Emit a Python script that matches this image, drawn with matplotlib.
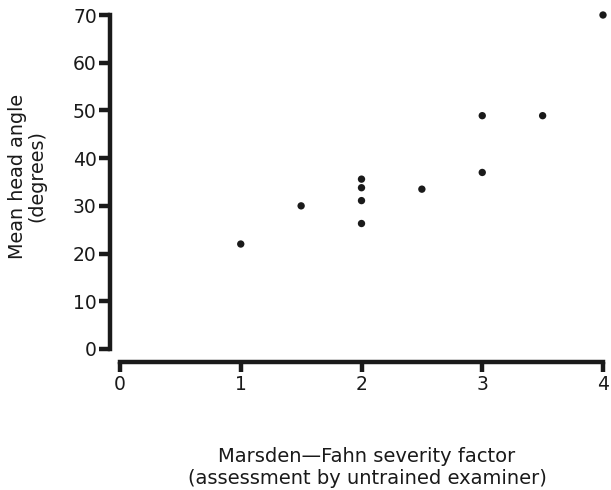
import matplotlib
matplotlib.use("Agg")
import matplotlib.pyplot as plt

# Severity factor vs. mean head angle
severity = [1.0, 1.5, 2.0, 2.0, 2.0, 2.0, 2.5, 3.0, 3.0, 3.5, 4.0]
head_angle = [22.0, 30.0, 35.6, 33.8, 31.1, 26.3, 33.5, 37.0, 48.9, 48.9, 70.0]

x_ticks = [0, 1, 2, 3, 4]
y_ticks = [0, 10, 20, 30, 40, 50, 60, 70]

plt.rcParams["font.family"] = ["DejaVu Sans"]

fig = plt.figure(figsize=(6.11, 4.90), dpi=100)
ax = fig.add_axes([120 / 611, 1 - 349 / 490, 483 / 611, 334 / 490])

ax.scatter(severity, head_angle, s=28, color="#1a1a1a", edgecolors="none",
           zorder=3, clip_on=False)

ax.set_xlim(0, 4)
ax.set_ylim(0, 70)
ax.set_xticks(x_ticks)
ax.set_yticks(y_ticks)
ax.set_xticklabels([str(t) for t in x_ticks])
ax.set_yticklabels([str(t) for t in y_ticks])

for side in ("top", "right"):
    ax.spines[side].set_visible(False)
ax.spines["left"].set_position(("outward", 7.2))
ax.spines["bottom"].set_position(("outward", 9))
ax.spines["left"].set_bounds(0, 70)
ax.spines["bottom"].set_bounds(0, 4)
for side in ("left", "bottom"):
    ax.spines[side].set_linewidth(3.2)
    ax.spines[side].set_color("#1a1a1a")
    ax.spines[side].set_capstyle("projecting")

ax.tick_params(axis="y", direction="out", length=8, width=3.2, pad=1.5,
               labelsize=13.5, colors="#1a1a1a")
ax.tick_params(axis="x", direction="out", length=7, width=3.2, pad=3,
               labelsize=13.5, colors="#1a1a1a")

fig.text(27 / 611, 1 - 176 / 490, "Mean head angle\n(degrees)", rotation=90,
         ha="center", va="center", fontsize=13.8, linespacing=1.0,
         color="#1a1a1a")
fig.text(367 / 611, 1 - 467 / 490,
         "Marsden\u2014Fahn severity factor\n(assessment by untrained examiner)",
         ha="center", va="center", fontsize=14, linespacing=1.2,
         color="#1a1a1a")

fig.savefig("out.png", dpi=100, facecolor="white")
